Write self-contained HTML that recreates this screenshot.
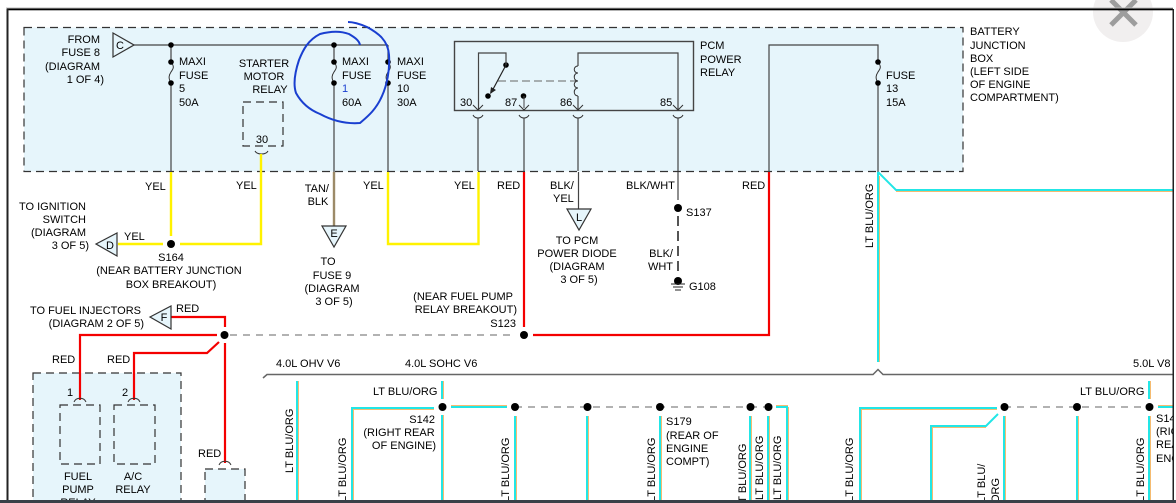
<!DOCTYPE html>
<html><head><meta charset="utf-8"><style>
html,body{margin:0;padding:0;background:#fff;width:1176px;height:503px;overflow:hidden}
svg{display:block}
text{font-family:"Liberation Sans",sans-serif;font-size:11px;fill:#000}
.e{text-anchor:end}.m{text-anchor:middle}
.w{fill:none;stroke:#444;stroke-width:1.200}
.d{fill:none;stroke:#333;stroke-width:1.200;stroke-dasharray:8 5}
.y{fill:none;stroke:#fff200;stroke-width:2.400}
.r{fill:none;stroke:#f40000;stroke-width:2.200}
.c{fill:none;stroke:#22e6e6;stroke-width:2}
.o{fill:none;stroke:#f5bb70;stroke-width:1}
.t{fill:#e6f5fb;stroke:#333;stroke-width:1.200}
.g{fill:none;stroke:#666;stroke-width:1;stroke-dasharray:7 6}
</style></head><body>
<svg width="1176" height="503" viewBox="0 0 1176 503" xmlns="http://www.w3.org/2000/svg">
<defs><clipPath id="cp"><rect x="8" y="10" width="1165" height="490"/></clipPath></defs>
<rect width="1176" height="503" fill="#fff"/>
<circle cx="1123" cy="12" r="30" fill="#f1efef"/>
<g clip-path="url(#cp)">
<rect x="24" y="27.500" width="939" height="144" fill="#e6f5fb"/>
<rect x="24" y="27.500" width="939" height="144" class="d"/>
<rect x="33" y="373" width="148" height="135" fill="#e6f5fb"/>
<rect x="33" y="373" width="148" height="135" class="d"/>
<rect x="243" y="102" width="40" height="44" class="d"/>
<rect x="60" y="405" width="40" height="59" class="d"/>
<rect x="114" y="405" width="41" height="59" class="d"/>
<rect x="205" y="469" width="40" height="50" fill="#e6f5fb"/>
<rect x="205" y="469" width="40" height="50" class="d"/>
<rect x="454.500" y="41.500" width="239" height="69" fill="none" stroke="#444" stroke-width="1.400"/>

<path class="w" d="M134 45H388M171 45V62M171 83V172M334 45V62M334 83V172M388 45V62M388 83V172M769 172V45H878V62M878 83V172"/>
<path class="w" d="M478 118V171M524 118V171M578 118V171M678 118V171"/>
<path d="M171 62c4 5 2 7 0 10s-3 6 0 11M334 62c4 5 2 7 0 10s-3 6 0 11M388 62c4 5 2 7 0 10s-3 6 0 11M878 62c4 5 2 7 0 10s-3 6 0 11" fill="none" stroke="#333"/>
<g fill="#000">
<circle cx="171" cy="45" r="2.800"/><circle cx="171" cy="62" r="2.800"/><circle cx="171" cy="83" r="2.800"/>
<circle cx="334" cy="45" r="2.800"/><circle cx="334" cy="62" r="2.800"/><circle cx="334" cy="83" r="2.800"/>
<circle cx="388" cy="62" r="2.800"/><circle cx="388" cy="83" r="2.800"/>
<circle cx="878" cy="62" r="2.800"/><circle cx="878" cy="83" r="2.800"/>
<circle cx="506" cy="65" r="2.800"/><circle cx="488" cy="96" r="2.800"/><circle cx="523.500" cy="96" r="2.800"/>
<circle cx="171" cy="244" r="4"/><circle cx="678" cy="208" r="4"/><circle cx="678" cy="281" r="4"/>
<circle cx="224.500" cy="335" r="4"/><circle cx="524" cy="335" r="4"/>
</g>
<path class="w" d="M478.500 109V53H506V65M578 66V53H678V109M578 96V109"/>
<path d="M506 65L491 93" stroke="#222" stroke-width="1.200" fill="none"/>
<path d="M490 94l1-7 5 3z" fill="#222"/>
<path d="M498 81H576" fill="none" stroke="#666" stroke-dasharray="8 4"/>
<path d="M578 66c-5 0-5 7 0 7c-5 0-5 8 0 8c-5 0-5 7 0 7c-5 0-5 8 0 8" fill="none" stroke="#333"/>
<path d="M524 96V108" stroke="#444" fill="none"/>
<path d="M473 105l5 5 5-5M519 105l5 5 5-5M573 105l5 5 5-5M673 105l5 5 5-5" fill="none" stroke="#333"/>
<path d="M473 115c2 4 8 4 10 0M519 115c2 4 8 4 10 0M573 115c2 4 8 4 10 0M673 115c2 4 8 4 10 0M255 151c2 4 11 4 13 0" fill="none" stroke="#333"/>
<path class="y" d="M171 172V236M118 244H163M180 244H261V154M388 172V244H478.500V172"/>
<path d="M334 172V226" fill="none" stroke="#9c8a68" stroke-width="2.400"/>
<path class="w" d="M578.500 172V209M678 172V200" stroke-width="1.600"/>
<path d="M678 216V273" fill="none" stroke="#555" stroke-width="2" stroke-dasharray="10 5"/>
<path d="M671 284H685M673 287H683M675 290H681" stroke="#222" fill="none"/>
<path class="r" d="M524 172V327M533 335H769V172M171 317H225V327M217 335H80V400M219 342L207 353H134V400M225 343V463"/>
<path class="g" d="M230 335H516"/>
<path class="t" d="M113 33L134 45L113 57Z"/>
<path class="t" d="M96 244L117 233V256Z"/>
<path class="t" d="M322 226H346L334 247Z"/>
<path class="t" d="M567 209H591L579 230Z"/>
<path class="t" d="M150 317L171 306V329Z"/>
<path d="M74 402c2-5 10-5 12 0M128 402c2-5 10-5 12 0M219 465c2-5 10-5 12 0" fill="none" stroke="#333"/>
<path d="M263 378L267 374.500H873L878 369.500L883 374.500H1174" fill="none" stroke="#666" stroke-width="1.500"/>
<path class="c" d="M878 172V362M878 172L896 190H1174"/>
<path class="o" d="M879.500 176V362M896 191.500H1174"/>
<path class="c" d="M297 381V500M442 381V399M442 415V500M352 500V408H434M451 407H507M515 416V500M587 416V500M660 416V500M750 416V500M768 416V500M776 407H787V500M860 500V408H997M931 500V426H986L998 414M1004 416V500M1077 416V500M1149 381V399M1149 416V500M1158 407H1174"/>
<path class="o" d="M298.500 381V500M443.500 381V399M443.500 415V500M353.500 500V409.500H434M451 405.500H507M516.500 416V500M588.500 416V500M661.500 416V500M751.500 416V500M769.500 416V500M776 405.500H788M788.500 407V500M861.500 500V409.500H997M932.500 500V427.500H986M1005.500 416V500M1078.500 416V500M1150.500 381V399M1150.500 416V500M1158 405.500H1174"/>
<path class="g" d="M515 407H750M750 407H768M1004 407H1149" stroke-dasharray="9 7"/>
<g fill="#000">
<circle cx="442.500" cy="407" r="4"/><circle cx="515" cy="407" r="4"/><circle cx="587.500" cy="407" r="4"/><circle cx="660" cy="407" r="4"/><circle cx="750.500" cy="407" r="4"/><circle cx="768.500" cy="407" r="4"/><circle cx="1004.500" cy="407" r="4"/><circle cx="1077" cy="407" r="4"/><circle cx="1149.500" cy="407" r="4"/>
</g>
<text class="e" x="100" y="43">FROM</text><text class="e" x="100" y="56">FUSE 8</text><text class="e" x="100" y="70">(DIAGRAM</text><text class="e" x="104" y="83">1 OF 4)</text>
<text class="m" x="120" y="49">C</text>
<text x="179" y="65">MAXI</text><text x="179" y="79">FUSE</text><text x="179" y="92">5</text><text x="179" y="106">50A</text>
<text class="m" x="264" y="67">STARTER</text><text class="m" x="264" y="80">MOTOR</text><text class="m" x="270" y="93">RELAY</text>
<text class="m" x="262" y="143">30</text>
<text x="342" y="65">MAXI</text><text x="342" y="79">FUSE</text><text x="342" y="92" style="fill:#1a3fd0">1</text><text x="342" y="106">60A</text>
<text x="397" y="65">MAXI</text><text x="397" y="79">FUSE</text><text x="397" y="92">10</text><text x="397" y="106">30A</text>
<text x="460" y="106">30</text><text x="505" y="106">87</text><text x="560" y="106">86</text><text x="660" y="106">85</text>
<text x="700" y="49">PCM</text><text x="700" y="63">POWER</text><text x="700" y="76">RELAY</text>
<text x="886" y="79">FUSE</text><text x="886" y="92">13</text><text x="886" y="106">15A</text>
<text x="970" y="35">BATTERY</text><text x="970" y="49">JUNCTION</text><text x="970" y="62">BOX</text><text x="970" y="75">(LEFT SIDE</text><text x="970" y="88">OF ENGINE</text><text x="970" y="101">COMPARTMENT)</text>
<text x="145" y="190">YEL</text><text x="236" y="189">YEL</text><text class="e" x="329" y="192">TAN/</text><text class="m" x="318" y="205">BLK</text><text x="363" y="189">YEL</text><text x="454" y="189">YEL</text><text x="497" y="189">RED</text><text x="550" y="189">BLK/</text><text x="553" y="202">YEL</text><text x="626" y="189">BLK/WHT</text><text x="742" y="189">RED</text>
<text x="686" y="216">S137</text><text x="689" y="290">G108</text><text class="e" x="673" y="257">BLK/</text><text class="e" x="673" y="270">WHT</text>
<text class="m" x="577" y="244">TO PCM</text><text class="m" x="577" y="257">POWER DIODE</text><text class="m" x="577" y="270">(DIAGRAM</text><text class="m" x="579" y="283">3 OF 5)</text>
<text class="m" x="579" y="221">L</text><text class="m" x="334" y="237">E</text><text class="m" x="110" y="249">D</text><text class="m" x="164" y="321">F</text>
<text class="m" x="328" y="265">TO</text><text class="m" x="332" y="279">FUSE 9</text><text class="m" x="332" y="292">(DIAGRAM</text><text class="m" x="334" y="305">3 OF 5)</text>
<text class="m" x="171" y="261">S164</text><text class="m" x="169" y="274">(NEAR BATTERY JUNCTION</text><text class="m" x="171" y="288">BOX BREAKOUT)</text>
<text class="e" x="86" y="210">TO IGNITION</text><text class="e" x="86" y="223">SWITCH</text><text class="e" x="86" y="236">(DIAGRAM</text><text class="e" x="89" y="249">3 OF 5)</text>
<text x="124" y="240">YEL</text>
<text class="e" x="141" y="314">TO FUEL INJECTORS</text><text class="e" x="144" y="327">(DIAGRAM 2 OF 5)</text><text x="176" y="312">RED</text>
<text class="e" x="513" y="300">(NEAR FUEL PUMP</text><text class="e" x="517" y="313">RELAY BREAKOUT)</text><text class="e" x="516" y="327">S123</text>
<text x="52" y="363">RED</text><text x="107" y="363">RED</text><text x="198" y="457">RED</text>
<text x="67" y="396">1</text><text x="122" y="396">2</text>
<text class="m" x="78" y="480">FUEL</text><text class="m" x="78" y="493">PUMP</text><text class="m" x="78" y="506">RELAY</text><text class="m" x="133" y="480">A/C</text><text class="m" x="133" y="493">RELAY</text>
<text x="276" y="367">4.0L OHV V6</text><text x="405" y="367">4.0L SOHC V6</text><text x="1133" y="367">5.0L V8</text>
<text x="373" y="395">LT BLU/ORG</text><text x="1080" y="395">LT BLU/ORG</text>
<text class="e" x="435" y="423">S142</text><text class="m" x="399" y="436">(RIGHT REAR</text><text class="m" x="404" y="449">OF ENGINE)</text>
<text x="666" y="425">S179</text><text x="666" y="439">(REAR OF</text><text x="666" y="452">ENGINE</text><text x="666" y="465">COMPT)</text>
<text x="1156" y="422">S142</text><text x="1156" y="435">(RIGHT</text><text x="1156" y="448">REAR</text><text x="1156" y="462">ENGINE</text>
<text transform="translate(873,248) rotate(-90)">LT BLU/ORG</text>
<text transform="translate(293,473) rotate(-90)">LT BLU/ORG</text>
<text transform="translate(346,502) rotate(-90)">LT BLU/ORG</text>
<text transform="translate(509,502) rotate(-90)">LT BLU/ORG</text>
<text transform="translate(655,502) rotate(-90)">LT BLU/ORG</text>
<text transform="translate(746,508) rotate(-90)">LT BLU/ORG</text>
<text transform="translate(763,500) rotate(-90)">LT BLU/ORG</text>
<text transform="translate(781,500) rotate(-90)">LT BLU/ORG</text>
<text transform="translate(853,502) rotate(-90)">LT BLU/ORG</text>
<text transform="translate(985,503) rotate(-90)">LT BLU/</text>
<text transform="translate(999,503) rotate(-90)">ORG</text>
<text transform="translate(1144,502) rotate(-90)">LT BLU/ORG</text>
</g>
<path d="M1111 0L1136 25M1136 0L1111 25" stroke="#9d9d9d" stroke-width="5" fill="none"/>
<rect x="6" y="7.500" width="1167" height="1.500" fill="#bbb"/>
<rect x="7" y="8.500" width="1166" height="1.800" fill="#000"/>
<rect x="6.500" y="9" width="2" height="491" fill="#222"/>
<rect x="1172.500" y="9" width="1.500" height="491" fill="#222"/>
<rect x="0" y="500" width="1176" height="3" fill="#3a4048"/>
<path d="M360 45C359 40 354 37 349 34C341 31 331 31 320 34C308 40 303 50 299 60C295 72 293 84 296 93C302 104 310 110 320 114C333 121 347 124 360 123C367 117 376 110 382 96C387 85 390 70 389 55C388 40 378 33 367 27C360 24 353 22 348 22" fill="none" stroke="#1a3fd0" stroke-width="2"/>
</svg>
</body></html>
